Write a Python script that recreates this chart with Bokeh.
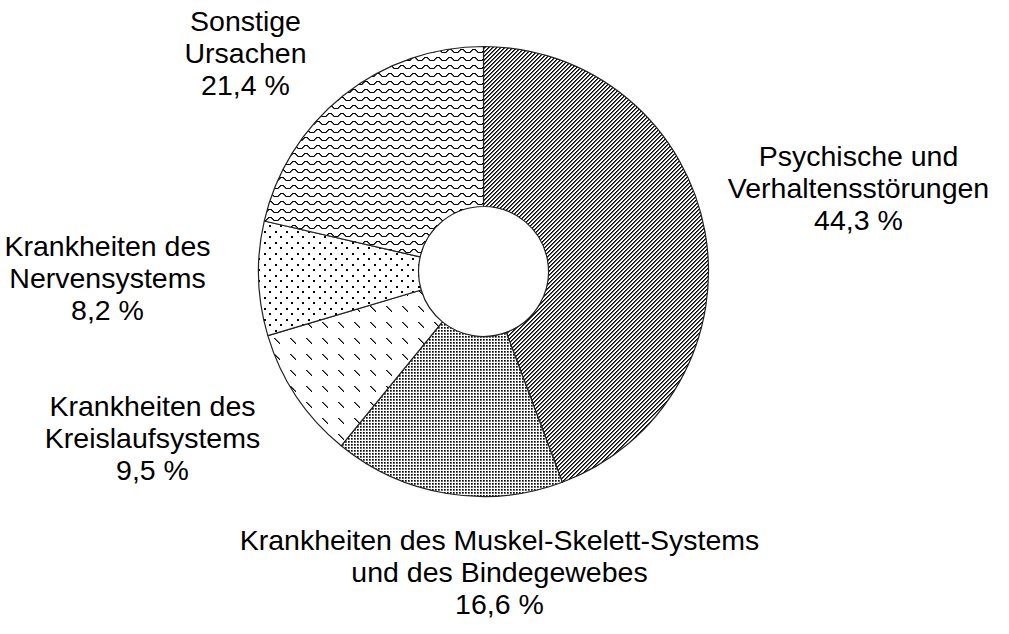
import math
import zlib
import struct
import base64
from bokeh.plotting import figure
from bokeh.models import Range1d, ColumnDataSource, ImageURLTexture
from bokeh.embed import file_html
from bokeh.resources import INLINE
from bokeh.core.properties import value

# ---- data ----
categories = [
    "Psychische und\nVerhaltensstörungen",
    "Krankheiten des Muskel-Skelett-Systems\nund des Bindegewebes",
    "Krankheiten des\nKreislaufsystems",
    "Krankheiten des\nNervensystems",
    "Sonstige\nUrsachen",
]
shares = [44.3, 16.6, 9.5, 8.2, 21.4]
share_labels = ["44,3 %", "16,6 %", "9,5 %", "8,2 %", "21,4 %"]

# ---- styles: pattern tiles as pixel art ('#' black, '*' strong, '+' half, ':' faint, '.' clear) ----
TILE_DIAG = [
    "*..#",
    "..#*",
    ".#*.",
    "#*..",
]
TILE_FINEDOT = [
    "#*.",
    "*+.",
    "...",
]
TILE_DASH = [
    "................",
    "................",
    "..#+............",
    "...#+...........",
    "....#+..........",
    ".....#+.........",
    "......#+........",
    ".......#........",
    "................",
    "................",
    "................",
    "................",
    "................",
    "................",
    "................",
    "................",
]
TILE_DOT = [
    "##.........",
    "##.........",
    "...........",
    "...........",
    "...........",
    ".....##....",
    ".....##....",
    "...........",
    "...........",
    "...........",
    "...........",
]
TILE_WAVE = [
    "............",
    "....####....",
    "...#*..*#...",
    "..#*....*#..",
    "##*......*##",
    "............",
    "............",
    "............",
]
tiles = [TILE_DIAG, TILE_FINEDOT, TILE_DASH, TILE_DOT, TILE_WAVE]

ALPHA = {"#": 255, "*": 170, "+": 130, ":": 70, ".": 0}


def png_url(tile):
    h = len(tile)
    w = len(tile[0])
    raw = b""
    for row in tile:
        raw += b"\x00" + b"".join(bytes((0, 0, 0, ALPHA[c])) for c in row)

    def chunk(tag, data):
        return (struct.pack(">I", len(data)) + tag + data +
                struct.pack(">I", zlib.crc32(tag + data) & 0xFFFFFFFF))

    png = (b"\x89PNG\r\n\x1a\n" +
           chunk(b"IHDR", struct.pack(">IIBBBBB", w, h, 8, 6, 0, 0, 0)) +
           chunk(b"IDAT", zlib.compress(raw)) +
           chunk(b"IEND", b""))
    return "data:image/png;base64," + base64.b64encode(png).decode("ascii")


W, H = 993, 618
OFF = 8
REF_H = 634

def yup(y_ref):
    return REF_H - y_ref

cx, cy = 491, yup(279)
R_out, R_in = 225, 65

p = figure(width=W, height=H, output_backend="svg", toolbar_location=None,
           x_range=Range1d(OFF, OFF + W), y_range=Range1d(REF_H - OFF - H, REF_H - OFF),
           x_axis_type=None, y_axis_type=None, min_border=0)
p.outline_line_color = None
p.grid.visible = False
p.background_fill_color = "white"
p.border_fill_color = "white"

total = sum(shares)
cum = 0.0
for i, s in enumerate(shares):
    a0 = math.pi / 2 - 2 * math.pi * cum / total
    cum += s
    a1 = math.pi / 2 - 2 * math.pi * cum / total
    src = ColumnDataSource(dict(x=[cx], y=[cy], start=[a0], end=[a1]))
    key = "tex%d" % i
    p.annular_wedge(x="x", y="y", inner_radius=R_in, outer_radius=R_out,
                    start_angle="start", end_angle="end", direction="clock",
                    fill_color="white", line_color="#222222", line_width=1.2,
                    hatch_pattern=value(key),
                    hatch_extra={key: ImageURLTexture(url=png_url(tiles[i]), repetition="repeat")},
                    source=src)

# label block centers (reference pixel coords)
label_pos = [(866, 195), (507, 579), (160, 445), (115, 285), (253, 60)]
texts = [c + "\n" + l for c, l in zip(categories, share_labels)]
lsrc = ColumnDataSource(dict(
    x=[pt[0] for pt in label_pos], y=[yup(pt[1]) for pt in label_pos], t=texts))
p.text(x="x", y="y", text="t", source=lsrc, text_align="center",
       text_baseline="middle", text_font=value("Liberation Sans"),
       text_font_size="28.5px", text_color="black", text_line_height=1.0)

open("out.html", "w").write(file_html(p, INLINE))
